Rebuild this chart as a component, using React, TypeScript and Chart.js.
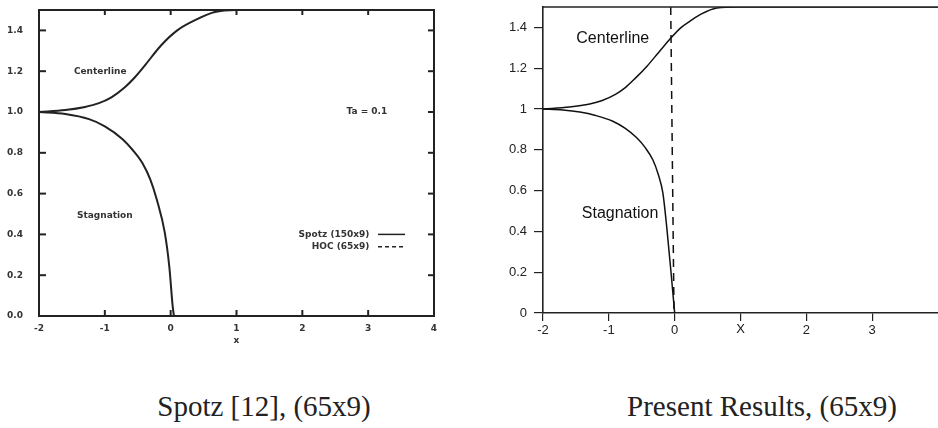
import React, { useEffect, useRef } from 'react';
import { Chart, registerables } from 'chart.js';

Chart.register(...registerables);

// ---------- Left panel (Spotz) data ----------
const leftCenterX = [-2, -1.6, -1.3, -1.1, -0.9, -0.7, -0.55, -0.4, -0.15, 0.1, 0.37, 0.67, 1, 2, 4];
const leftCenterY = [1.0, 1.01, 1.025, 1.042, 1.072, 1.12, 1.168, 1.225, 1.325, 1.4, 1.45, 1.49, 1.5, 1.5, 1.5];
const leftStagX = [-2, -1.6, -1.24, -1, -0.73, -0.58, -0.43, -0.31, -0.21, -0.09, -0.02, 0.03, 0.05];
const leftStagY = [1.0, 0.99, 0.965, 0.93, 0.867, 0.815, 0.75, 0.67, 0.57, 0.41, 0.24, 0.05, 0];
const leftXTicks = [-2, -1, 0, 1, 2, 3, 4];
const leftXLabels = ['-2', '-1', '0', '1', '2', '3', '4'];
const leftYTicks = [0, 0.2, 0.4, 0.6, 0.8, 1.0, 1.2, 1.4];
const leftLegendLabels = ['Spotz (150x9)', 'HOC (65x9)'];

// ---------- Right panel (Present results) data ----------
const rightCenterX = [-2, -1.6, -1.29, -1.1, -0.9, -0.75, -0.6, -0.42, -0.25, -0.08, 0.1, 0.23, 0.4, 0.64, 0.98, 2, 4];
const rightCenterY = [1.0, 1.01, 1.025, 1.042, 1.072, 1.105, 1.15, 1.21, 1.275, 1.34, 1.4, 1.43, 1.465, 1.495, 1.5, 1.5, 1.5];
const rightStagX = [-2, -1.7, -1.44, -1.2, -0.94, -0.75, -0.58, -0.45, -0.33, -0.25, -0.18, -0.12, -0.05, 0];
const rightStagY = [1.0, 0.995, 0.985, 0.968, 0.94, 0.905, 0.86, 0.812, 0.75, 0.68, 0.59, 0.42, 0.18, 0];
const dashedX = [-0.06, -0.01];
const dashedY = [1.5, 0];
const rightXTicks = [-2, -1, 0, 1, 2, 3];
const rightXLabels = ['-2', '-1', '0', '', '2', '3'];
const rightYTicks = [0, 0.2, 0.4, 0.6, 0.8, 1, 1.2, 1.4];

const captions = ['Spotz [12], (65x9)', 'Present Results, (65x9)'];

const pts = (xs: number[], ys: number[]) => xs.map((x, i) => ({ x, y: ys[i] }));

const noPadX = (h: number) => (axis: any) => { axis.height = h; axis.paddingLeft = 0; axis.paddingRight = 0; };
const noPadY = (w: number) => (axis: any) => { axis.width = w; axis.paddingTop = 0; axis.paddingBottom = 0; };

const leftPlugin = {
  id: 'leftDecor',
  afterDraw(chart: any) {
    const { ctx, chartArea, scales } = chart;
    const { left, right, top, bottom } = chartArea;
    const x = scales.x;
    const y = scales.y;
    const line = (x1: number, y1: number, x2: number, y2: number) => {
      ctx.beginPath();
      ctx.moveTo(x1, y1);
      ctx.lineTo(x2, y2);
      ctx.stroke();
    };
    ctx.save();
    ctx.strokeStyle = '#222';
    ctx.lineWidth = 2;
    ctx.strokeRect(left, top, right - left, bottom - top);
    leftXTicks.forEach((v) => {
      const px = x.getPixelForValue(v);
      line(px, bottom, px, bottom - 6);
      line(px, top, px, top + 5);
    });
    leftYTicks.forEach((v) => {
      const py = y.getPixelForValue(v);
      line(left, py, left + 7, py);
      line(right, py, right - 6, py);
    });
    ctx.fillStyle = '#333';
    ctx.font = 'bold 9px "DejaVu Sans"';
    ctx.textAlign = 'center';
    ctx.textBaseline = 'middle';
    ctx.fillText('Centerline', x.getPixelForValue(-1.07), y.getPixelForValue(1.2));
    ctx.fillText('Stagnation', x.getPixelForValue(-1.0), y.getPixelForValue(0.49));
    ctx.fillText('Ta = 0.1', x.getPixelForValue(2.98), y.getPixelForValue(1.0));
    ctx.fillText('x', x.getPixelForValue(1), bottom + 25);
    ctx.textAlign = 'right';
    const lx1 = x.getPixelForValue(3.15);
    const lx2 = x.getPixelForValue(3.56);
    const ly1 = y.getPixelForValue(0.4);
    const ly2 = y.getPixelForValue(0.34);
    ctx.fillText(leftLegendLabels[0], x.getPixelForValue(3.02), ly1);
    ctx.fillText(leftLegendLabels[1], x.getPixelForValue(3.02), ly2);
    ctx.lineWidth = 1.5;
    line(lx1, ly1, lx2, ly1);
    ctx.setLineDash([4, 3]);
    line(lx1, ly2, lx2, ly2);
    ctx.restore();
  },
};

const rightPlugin = {
  id: 'rightDecor',
  afterDraw(chart: any) {
    const { ctx, chartArea, scales } = chart;
    const { left, right, top, bottom } = chartArea;
    const x = scales.x;
    const y = scales.y;
    ctx.save();
    ctx.strokeStyle = '#222';
    ctx.lineWidth = 1.5;
    ctx.beginPath();
    ctx.moveTo(left, top);
    ctx.lineTo(right, top);
    ctx.stroke();
    ctx.fillStyle = '#111';
    ctx.font = '16px "Liberation Sans"';
    ctx.textAlign = 'center';
    ctx.textBaseline = 'middle';
    ctx.fillText('Centerline', x.getPixelForValue(-0.94), y.getPixelForValue(1.343));
    ctx.fillText('Stagnation', x.getPixelForValue(-0.83), y.getPixelForValue(0.485));
    ctx.font = '13px "Liberation Sans"';
    ctx.fillText('X', x.getPixelForValue(1), bottom + 16);
    ctx.restore();
  },
};

const lineDs = (data: any[], color: string, width: number) => ({
  data,
  borderColor: color,
  borderWidth: width,
  pointRadius: 0,
  cubicInterpolationMode: 'monotone',
  fill: false,
});

function LeftChart() {
  const ref = useRef<HTMLCanvasElement>(null);
  useEffect(() => {
    const chart = new Chart(ref.current as HTMLCanvasElement, {
      type: 'line',
      data: {
        datasets: [
          lineDs(pts(leftCenterX, leftCenterY), '#222', 2),
          lineDs(pts(leftStagX, leftStagY), '#222', 2),
        ],
      },
      options: {
        responsive: false,
        animation: false,
        layout: { padding: { top: 10, right: 6, left: 0, bottom: 0 } },
        plugins: { legend: { display: false }, tooltip: { enabled: false } },
        scales: {
          x: {
            type: 'linear',
            min: -2,
            max: 4,
            grid: { display: false, drawTicks: false },
            border: { display: false },
            afterBuildTicks: (axis: any) => { axis.ticks = leftXTicks.map((v) => ({ value: v })); },
            afterFit: noPadX(34),
            ticks: {
              autoSkip: false,
              maxRotation: 0,
              padding: 7,
              color: '#333',
              font: { family: 'DejaVu Sans', size: 9, weight: 'bold' },
              callback: (_v: any, i: number) => leftXLabels[i],
            },
          },
          y: {
            min: 0,
            max: 1.5,
            grid: { display: false, drawTicks: false },
            border: { display: false },
            afterBuildTicks: (axis: any) => { axis.ticks = leftYTicks.map((v) => ({ value: v })); },
            afterFit: noPadY(39),
            ticks: {
              autoSkip: false,
              padding: 16,
              color: '#333',
              font: { family: 'DejaVu Sans', size: 9, weight: 'bold' },
              callback: (v: any) => Number(v).toFixed(1),
            },
          },
        },
      } as any,
      plugins: [leftPlugin],
    });
    return () => chart.destroy();
  }, []);
  return <canvas ref={ref} width={440} height={350} style={{ position: 'absolute', left: 0, top: 0 }} />;
}

function RightChart() {
  const ref = useRef<HTMLCanvasElement>(null);
  useEffect(() => {
    const chart = new Chart(ref.current as HTMLCanvasElement, {
      type: 'line',
      data: {
        datasets: [
          lineDs(pts(rightCenterX, rightCenterY), '#111', 1.5),
          lineDs(pts(rightStagX, rightStagY), '#111', 1.5),
          { data: pts(dashedX, dashedY), borderColor: '#111', borderWidth: 1.5, borderDash: [8, 6], pointRadius: 0, fill: false },
        ],
      },
      options: {
        responsive: false,
        animation: false,
        layout: { padding: { top: 7, right: 0, left: 0, bottom: 0 } },
        plugins: { legend: { display: false }, tooltip: { enabled: false } },
        scales: {
          x: {
            type: 'linear',
            min: -2,
            max: 4,
            grid: { drawOnChartArea: false, tickLength: 8, color: '#222', lineWidth: 1.2 },
            border: { color: '#222', width: 1.6 },
            afterBuildTicks: (axis: any) => { axis.ticks = rightXTicks.map((v) => ({ value: v })); },
            afterFit: noPadX(27),
            ticks: {
              autoSkip: false,
              maxRotation: 0,
              padding: 2,
              color: '#222',
              font: { family: 'Liberation Sans', size: 13 },
              callback: (_v: any, i: number) => rightXLabels[i],
            },
          },
          y: {
            min: 0,
            max: 1.5,
            grid: { drawOnChartArea: false, tickLength: 9, color: '#222', lineWidth: 1.2 },
            border: { color: '#222', width: 1.6 },
            afterBuildTicks: (axis: any) => { axis.ticks = rightYTicks.map((v) => ({ value: v })); },
            afterFit: noPadY(53),
            ticks: {
              autoSkip: false,
              padding: 7,
              color: '#222',
              font: { family: 'Liberation Sans', size: 13 },
              callback: (v: any) => String(Math.round(Number(v) * 10) / 10),
            },
          },
        },
      } as any,
      plugins: [rightPlugin],
    });
    return () => chart.destroy();
  }, []);
  return <canvas ref={ref} width={448} height={340} style={{ position: 'absolute', left: 490, top: 0 }} />;
}

export default function App() {
  const capStyle: React.CSSProperties = {
    position: 'absolute',
    top: 388,
    fontFamily: '"Liberation Serif", serif',
    fontSize: 29,
    color: '#222',
    whiteSpace: 'nowrap',
    textAlign: 'center',
    lineHeight: '36px',
  };
  return (
    <div style={{ position: 'fixed', left: 0, top: 0, width: 938, height: 428, background: '#fff', overflow: 'hidden' }}>
      <LeftChart />
      <RightChart />
      <div style={{ ...capStyle, left: 74, width: 380 }}>{captions[0]}</div>
      <div style={{ ...capStyle, left: 587, width: 350 }}>{captions[1]}</div>
    </div>
  );
}
